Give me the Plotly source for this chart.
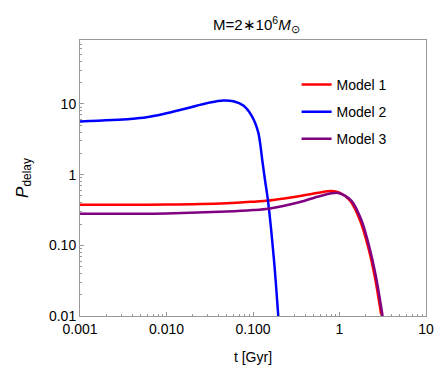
import plotly.graph_objects as go

# values (t in Gyr, P_delay)
t_model1 = [0.001, 0.01, 0.05, 0.1, 0.15, 0.35, 0.6, 0.8, 1.0, 1.32, 1.73, 2.15, 2.57, 3.05]
p_model1 = [0.375, 0.378, 0.395, 0.415, 0.43, 0.50, 0.56, 0.585, 0.555, 0.43, 0.224, 0.093, 0.035, 0.01]

t_model2 = [0.001, 0.0038, 0.0059, 0.0092, 0.0143, 0.0223, 0.0318, 0.0454, 0.0593, 0.0773, 0.0966,
            0.115, 0.129, 0.138, 0.149, 0.175, 0.196]
p_model2 = [5.67, 6.14, 6.47, 7.2, 8.2, 9.46, 10.5, 11.2, 10.9, 9.5, 6.8,
            3.97, 1.49, 0.82, 0.43, 0.061, 0.01]

t_model3 = [0.001, 0.01, 0.05, 0.1, 0.15, 0.35, 0.6, 0.97, 1.37, 1.8, 2.22, 2.65, 3.15]
p_model3 = [0.28, 0.283, 0.30, 0.315, 0.33, 0.41, 0.50, 0.55, 0.43, 0.224, 0.093, 0.035, 0.01]

x_ticks = [0.001, 0.01, 0.1, 1, 10]
x_ticklabels = ['0.001', '0.010', '0.100', '1', '10']
y_ticks = [0.01, 0.1, 1, 10]
y_ticklabels = ['0.01', '0.10', '1', '10']

x_minor = [m * 10 ** e for e in range(-3, 1) for m in range(2, 10)]
y_minor = [m * 10 ** e for e in range(-2, 2) for m in range(2, 10)]

fig = go.Figure()
fig.add_trace(go.Scatter(x=t_model1, y=p_model1, name='Model 1', mode='lines', legend='legend',
                         line=dict(color='#ff0000', width=2.5, shape='spline', smoothing=0.8)))
fig.add_trace(go.Scatter(x=t_model2, y=p_model2, name='Model 2', mode='lines', legend='legend2',
                         line=dict(color='#0000ff', width=2.5, shape='spline', smoothing=0.8)))
fig.add_trace(go.Scatter(x=t_model3, y=p_model3, name='Model 3', mode='lines', legend='legend3',
                         line=dict(color='#800080', width=2.5, shape='spline', smoothing=0.8)))
fig.update_traces(showlegend=True)

axis_style = dict(type='log', showgrid=False, zeroline=False, showline=True, mirror=True,
                  linecolor='#999999', linewidth=1, ticks='inside', ticklen=4, tickcolor='#999999',
                  tickfont=dict(size=14, color='black'), tickmode='array')

fig.update_xaxes(**axis_style, range=[-3, 1], tickvals=x_ticks, ticktext=x_ticklabels,
                 minor=dict(tickmode='array', tickvals=x_minor, ticks='inside', ticklen=2, tickcolor='#999999'),
                 title=dict(text='t [Gyr]', font=dict(size=14, color='black'), standoff=16))
fig.update_yaxes(**axis_style, range=[-2, 1.905], tickvals=y_ticks, ticktext=y_ticklabels,
                 minor=dict(tickmode='array', tickvals=y_minor, ticks='inside', ticklen=2, tickcolor='#999999'),
                 title=dict(text='<i>P</i><sub>delay</sub>', font=dict(size=17, color='black'), standoff=16))

legend_style = dict(x=0.626, xanchor='left', yanchor='middle', bgcolor='rgba(0,0,0,0)',
                    font=dict(size=14, color='black'), itemwidth=30)

# the page body has an 8px margin, so the figure is a bit smaller than the window
fig.update_layout(
    width=438, height=373,
    margin=dict(l=72, r=20, t=32, b=65),
    showlegend=True,
    plot_bgcolor='white', paper_bgcolor='white',
    font=dict(family='Liberation Sans, Arial, sans-serif', color='black'),
    title=dict(text='M=2∗10<sup>6</sup><i>M</i><sub>⊙</sub>', x=0.567, xanchor='center',
               y=0.955, yanchor='middle', font=dict(size=15, color='black')),
    legend=dict(y=0.837, **legend_style),
    legend2=dict(y=0.739, **legend_style),
    legend3=dict(y=0.641, **legend_style),
)

fig.write_html('out.html')
